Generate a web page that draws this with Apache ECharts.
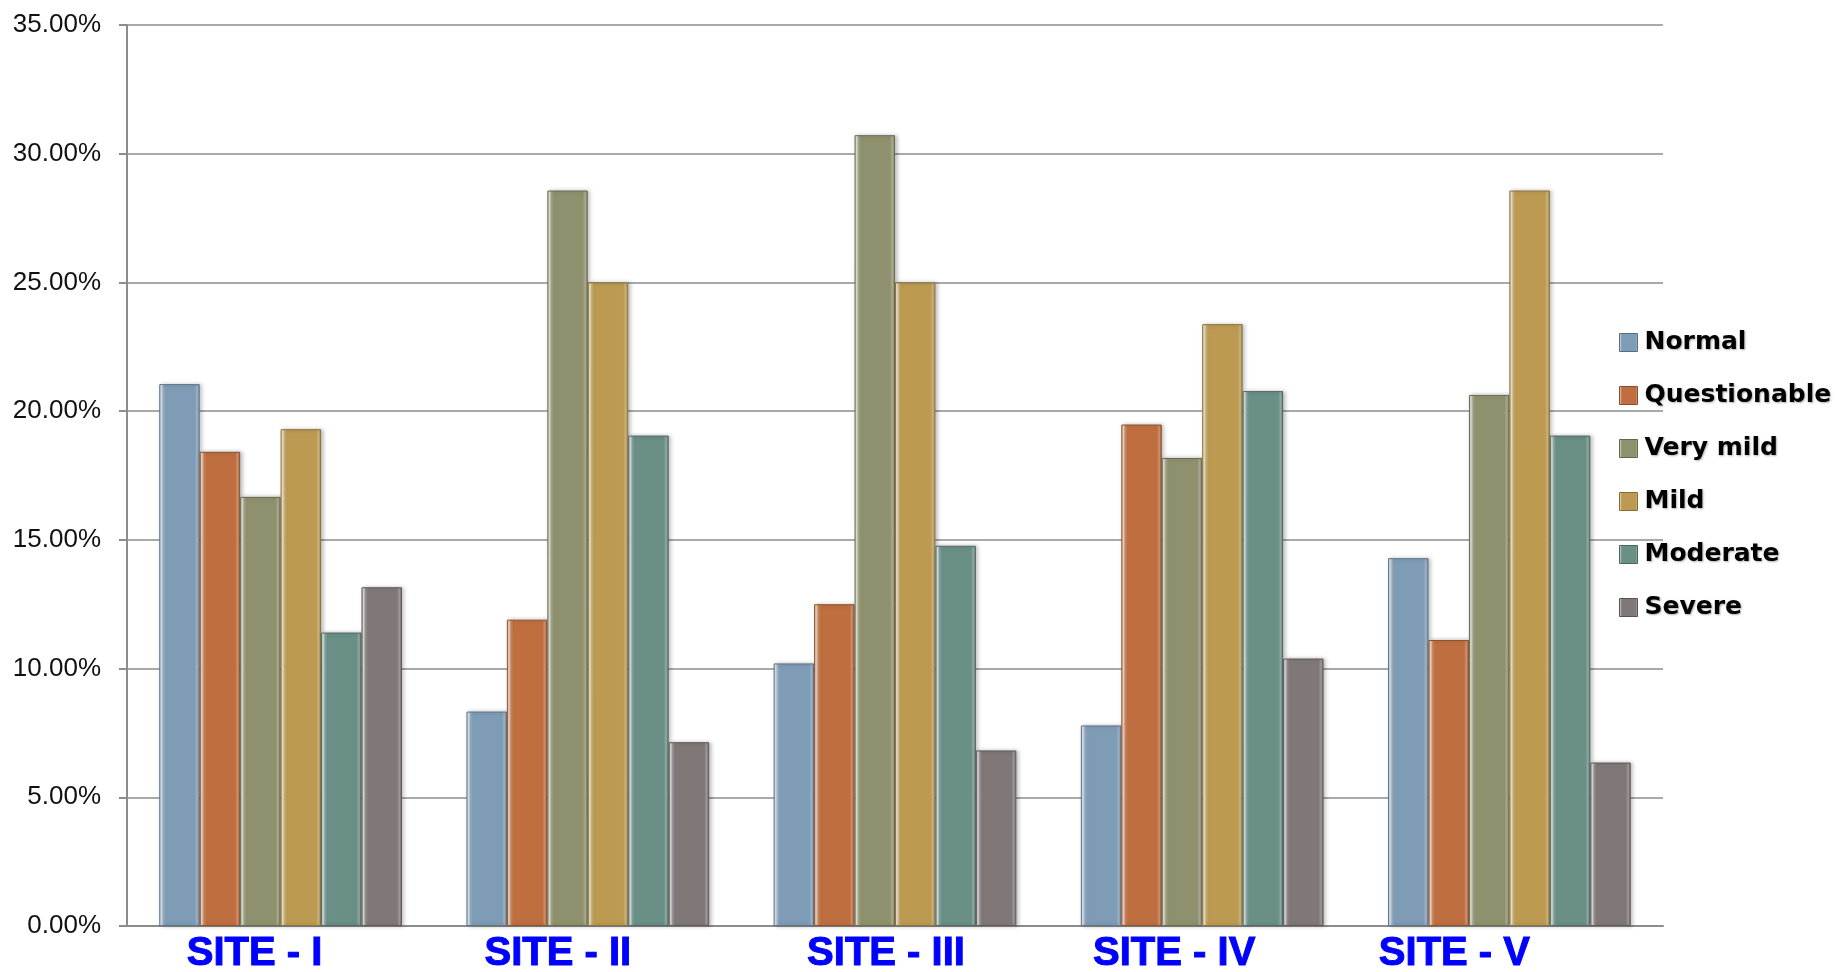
<!DOCTYPE html>
<html style="height: 100%">
<head>
<meta charset="utf-8">
<script src="https://cdn.jsdelivr.net/npm/echarts@6/dist/echarts.min.js"></script>
</head>
<body style="height: 100%; margin: 0; background: #fff">
<div id="container" style="width: 1839px; height: 972px"></div>
<script type="text/javascript">
// ------ data ------
var sites = ['SITE - I', 'SITE - II', 'SITE - III', 'SITE - IV', 'SITE - V'];
var seriesNames = ['Normal', 'Questionable', 'Very mild', 'Mild', 'Moderate', 'Severe'];
var normal       = [21.05, 8.33, 10.20, 7.79, 14.29];
var questionable = [18.42, 11.90, 12.50, 19.48, 11.11];
var veryMild     = [16.67, 28.57, 30.72, 18.18, 20.63];
var mild         = [19.30, 25.00, 25.00, 23.38, 28.57];
var moderate     = [11.40, 19.05, 14.77, 20.78, 19.05];
var severe       = [13.16, 7.14, 6.82, 10.39, 6.35];
var yTicks = [0, 5, 10, 15, 20, 25, 30, 35];
// ------ layout (label nudges, px) ------
var labelShift = [-26, -30, -9, -28, -55];

var colors = ['#7f9cb6', '#bf6f3f', '#8f916e', '#bc9a52', '#6a8f86', '#807777'];
var dataSets = [normal, questionable, veryMild, mild, moderate, severe];

function shade(hex, amt) {
  var n = parseInt(hex.slice(1), 16);
  var r = (n >> 16) & 255, g = (n >> 8) & 255, b = n & 255;
  function f(c) {
    c = amt > 0 ? c + (255 - c) * amt : c * (1 + amt);
    return Math.round(Math.max(0, Math.min(255, c)));
  }
  return 'rgb(' + f(r) + ',' + f(g) + ',' + f(b) + ')';
}

function bevel(c) {
  return new echarts.graphic.LinearGradient(0, 0, 1, 0, [
    { offset: 0, color: shade(c, 0.35) },
    { offset: 0.05, color: shade(c, 0.75) },
    { offset: 0.1, color: shade(c, 0.2) },
    { offset: 0.16, color: c },
    { offset: 0.88, color: c },
    { offset: 0.94, color: shade(c, 0.25) },
    { offset: 1, color: shade(c, -0.15) }
  ]);
}

var chart = echarts.init(document.getElementById('container'));

var series = [];
for (var i = 0; i < seriesNames.length; i++) {
  series.push({
    name: seriesNames[i],
    type: 'bar',
    barGap: 0,
    barCategoryGap: '21%',
    data: dataSets[i],
    itemStyle: {
      color: bevel(colors[i]),
      borderColor: shade(colors[i], -0.25),
      borderWidth: 1,
      shadowColor: 'rgba(0,0,0,0.25)',
      shadowBlur: 4,
      shadowOffsetX: 2
    }
  });
}

var catData = sites.map(function (s, k) {
  return {
    value: s,
    textStyle: { padding: labelShift[k] < 0 ? [0, -2 * labelShift[k], 0, 0] : [0, 0, 0, 2 * labelShift[k]] }
  };
});

var option = {
  animation: false,
  color: colors,
  grid: { left: 127, right: 176, top: 25, bottom: 46, containLabel: false, outerBoundsMode: 'none' },
  legend: {
    orient: 'vertical',
    left: 1614,
    top: 325,
    icon: 'rect',
    itemWidth: 18,
    itemHeight: 18,
    itemGap: 28,
    data: seriesNames.map(function (n, k) {
      return { name: n, itemStyle: { color: bevel(colors[k]), borderColor: shade(colors[k], -0.3), borderWidth: 1 } };
    }),
    textStyle: {
      fontFamily: 'DejaVu Sans',
      fontWeight: 'bold',
      fontSize: 25,
      color: '#000',
      padding: [0, 0, 0, 2],
      textShadowColor: 'rgba(0,0,0,0.3)',
      textShadowBlur: 2,
      textShadowOffsetX: 1,
      textShadowOffsetY: 1
    }
  },
  xAxis: {
    type: 'category',
    data: catData,
    axisLine: { lineStyle: { color: '#8c8c8c', width: 2 } },
    axisTick: { show: false },
    axisLabel: {
      color: '#0000ff',
      fontFamily: 'Liberation Sans',
      fontWeight: 'bold',
      fontSize: 40,
      margin: 8,
      textBorderColor: '#0000ff',
      textBorderWidth: 1
    }
  },
  yAxis: {
    type: 'value',
    min: yTicks[0],
    max: yTicks[yTicks.length - 1],
    interval: 5,
    axisLine: { show: true, lineStyle: { color: '#8c8c8c', width: 2 } },
    axisTick: { show: true, length: 8, lineStyle: { color: '#8c8c8c', width: 2 } },
    splitLine: { lineStyle: { color: '#8c8c8c', width: 1.5 } },
    axisLabel: {
      color: '#111',
      fontFamily: 'Liberation Sans',
      fontSize: 26,
      margin: 26,
      formatter: function (v) { return v.toFixed(2) + '%'; }
    }
  },
  series: series
};

chart.setOption(option);
</script>
</body>
</html>
